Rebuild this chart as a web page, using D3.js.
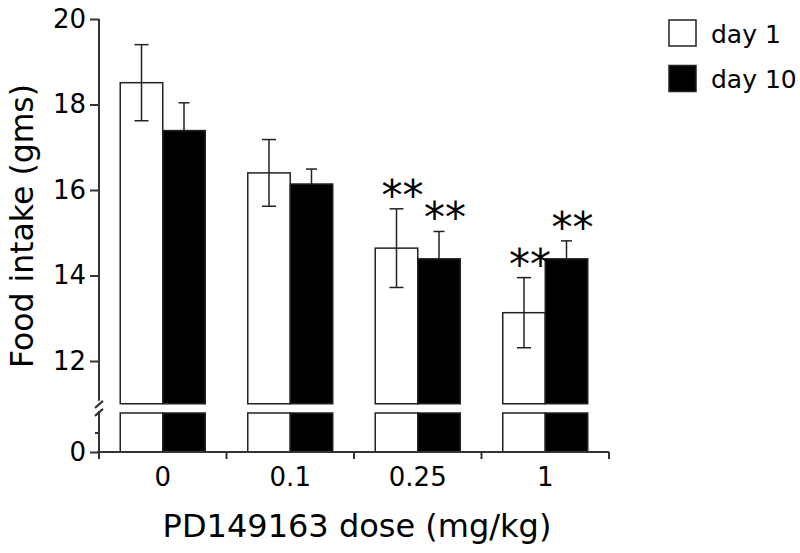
<!DOCTYPE html>
<html>
<head>
<meta charset="utf-8">
<script src="https://cdn.jsdelivr.net/npm/d3@7"></script>
<style>
    body { margin: 0; background: #fff; }
    text { font-family: "DejaVu Sans", sans-serif; fill: #000; }
</style>
</head>
<body>
<div id="chart"></div>
<script>

// data
var doses = ['0', '0.1', '0.25', '1'];
var day1 = [18.51, 16.40, 14.64, 13.13];
var day1Err = [0.89, 0.78, 0.92, 0.82];
var day10 = [17.39, 16.14, 14.39, 14.39];
var day10Err = [0.65, 0.35, 0.64, 0.42];
var day1Sig = [false, false, true, true];
var day10Sig = [false, false, true, true];
var yTicks = [12, 14, 16, 18, 20];
var seriesNames = ['day 1', 'day 10'];


var attrs = {
    svgWidth: 800,
    svgHeight: 553,
    left: 99,
    right: 609,
    top: 19,
    breakTop: 403.75,
    breakBottom: 413,
    bottom: 452,
    axisColor: '#333',
    barStroke: '#222'
};

var svg = d3.select('#chart')
    .append('svg')
    .attr('width', attrs.svgWidth)
    .attr('height', attrs.svgHeight);

var chart = svg.append('g');

// scales
var x = d3.scaleBand()
    .domain(doses)
    .range([attrs.left, attrs.right]);

var y = d3.scaleLinear()
    .domain([11, 20])
    .range([attrs.breakTop, attrs.top]);

// lower stub below the axis break
var yLow = d3.scaleLinear()
    .domain([0, 1])
    .range([attrs.bottom, attrs.breakBottom]);

var barW = x.bandwidth() / 3;

var rows = doses.map(function (d, i) {
    return [
        { dose: d, k: 0, v: day1[i], e: day1Err[i], sig: day1Sig[i] },
        { dose: d, k: 1, v: day10[i], e: day10Err[i], sig: day10Sig[i] }
    ];
}).flat();

function barX(d) { return x(d.dose) + barW / 2 + d.k * barW; }
function fill(d) { return d.k === 0 ? '#fff' : '#000'; }

/* ##############  BARS ################# */

chart.selectAll('rect.upper')
    .data(rows)
    .enter()
    .append('rect')
    .attr('class', 'upper')
    .attr('x', barX)
    .attr('y', d => y(d.v))
    .attr('width', barW)
    .attr('height', d => y(11) - y(d.v))
    .attr('fill', fill)
    .attr('stroke', attrs.barStroke)
    .attr('stroke-width', 1.5);

chart.selectAll('rect.lower')
    .data(rows)
    .enter()
    .append('rect')
    .attr('class', 'lower')
    .attr('x', barX)
    .attr('y', yLow(1))
    .attr('width', barW)
    .attr('height', yLow(0) - yLow(1))
    .attr('fill', fill)
    .attr('stroke', attrs.barStroke)
    .attr('stroke-width', 1.5);

// error bars (the black bars hide their lower half)
var err = chart.selectAll('g.err')
    .data(rows)
    .enter()
    .append('g')
    .attr('class', 'err')
    .attr('stroke', attrs.barStroke)
    .attr('stroke-width', 1.5);

err.append('line')
    .attr('x1', d => barX(d) + barW / 2)
    .attr('x2', d => barX(d) + barW / 2)
    .attr('y1', d => y(d.v + d.e))
    .attr('y2', d => d.k === 0 ? y(d.v - d.e) : y(d.v));

err.append('line')
    .attr('x1', d => barX(d) + barW / 2 - (d.k === 0 ? 7 : 5.5))
    .attr('x2', d => barX(d) + barW / 2 + (d.k === 0 ? 7 : 5.5))
    .attr('y1', d => y(d.v + d.e))
    .attr('y2', d => y(d.v + d.e));

err.filter(d => d.k === 0).append('line')
    .attr('x1', d => barX(d) + barW / 2 - 7)
    .attr('x2', d => barX(d) + barW / 2 + 7)
    .attr('y1', d => y(d.v - d.e))
    .attr('y2', d => y(d.v - d.e));

// significance stars
chart.selectAll('text.star')
    .data(rows.filter(d => d.sig))
    .enter()
    .append('text')
    .attr('class', 'star')
    .attr('x', d => barX(d) + barW / 2 + 6)
    .attr('y', d => y(d.v + d.e) + 1)
    .attr('text-anchor', 'middle')
    .attr('font-size', 42)
    .text('**');

/* ##############  AXES ################# */

var yAxis = chart.append('g')
    .attr('transform', 'translate(' + attrs.left + ',0)')
    .call(d3.axisLeft(y).tickValues(yTicks).tickSize(9).tickSizeOuter(0).tickFormat(d3.format('d')));

var yAxisLow = chart.append('g')
    .attr('transform', 'translate(' + attrs.left + ',0)')
    .call(d3.axisLeft(yLow).tickValues([0, 0.5]).tickSize(9).tickSizeOuter(0).tickFormat(d => d === 0 ? '0' : ''));

yAxisLow.selectAll('.tick').filter(d => d === 0.5).select('line').attr('x2', -4);

// trim the domain lines a bit so the break shows
yAxis.select('.domain').attr('d', 'M0,' + y(20) + 'V' + (y(11) - 3));
yAxisLow.select('.domain').attr('d', 'M0,' + (yLow(1) - 2) + 'V' + (yLow(0) + 5));

[yAxis, yAxisLow].forEach(function (g) {
    g.selectAll('.domain, .tick line').attr('stroke', attrs.axisColor).attr('stroke-width', 2);
    g.selectAll('text').attr('font-size', 26).attr('font-family', 'DejaVu Sans').attr('dx', '-1');
});

// break marks
var breakMid = (y(11) + yLow(1)) / 2;
chart.selectAll('line.brk')
    .data([breakMid - 4, breakMid + 4])
    .enter()
    .append('line')
    .attr('class', 'brk')
    .attr('x1', attrs.left - 4)
    .attr('x2', attrs.left + 4)
    .attr('y1', d => d + 3.5)
    .attr('y2', d => d - 3.5)
    .attr('stroke', attrs.axisColor)
    .attr('stroke-width', 2);

// x axis: labels at band centres, ticks at band edges
var xAxis = chart.append('g')
    .attr('transform', 'translate(0,' + attrs.bottom + ')')
    .call(d3.axisBottom(x).tickSize(0).tickPadding(16));

xAxis.select('.domain').attr('d', 'M' + (attrs.left - 2) + ',0H' + attrs.right)
    .attr('stroke', attrs.axisColor).attr('stroke-width', 2);
xAxis.selectAll('text').attr('font-size', 26).attr('font-family', 'DejaVu Sans');

xAxis.selectAll('line.edge')
    .data(doses.map(d => x(d)).concat([attrs.right]))
    .enter()
    .append('line')
    .attr('class', 'edge')
    .attr('x1', d => d)
    .attr('x2', d => d)
    .attr('y1', 0)
    .attr('y2', 7)
    .attr('stroke', attrs.axisColor)
    .attr('stroke-width', 2);

// axis titles
chart.append('text')
    .attr('x', 357)
    .attr('y', 537)
    .attr('text-anchor', 'middle')
    .attr('font-size', 32)
    .text('PD149163 dose (mg/kg)');

chart.append('text')
    .attr('transform', 'translate(33,226) rotate(-90)')
    .attr('text-anchor', 'middle')
    .attr('font-size', 31.5)
    .text('Food intake (gms)');

/* ##############  LEGEND ################# */

var legend = chart.selectAll('g.legend')
    .data(seriesNames)
    .enter()
    .append('g')
    .attr('class', 'legend')
    .attr('transform', (d, i) => 'translate(669,' + (20 + i * 45.5) + ')');

legend.append('rect')
    .attr('width', 27)
    .attr('height', 26)
    .attr('fill', (d, i) => i === 0 ? '#fff' : '#000')
    .attr('stroke', attrs.barStroke)
    .attr('stroke-width', 1.5);

legend.append('text')
    .attr('x', 42)
    .attr('y', 22.5)
    .attr('font-size', 25)
    .text(d => d);

</script>
</body>
</html>
